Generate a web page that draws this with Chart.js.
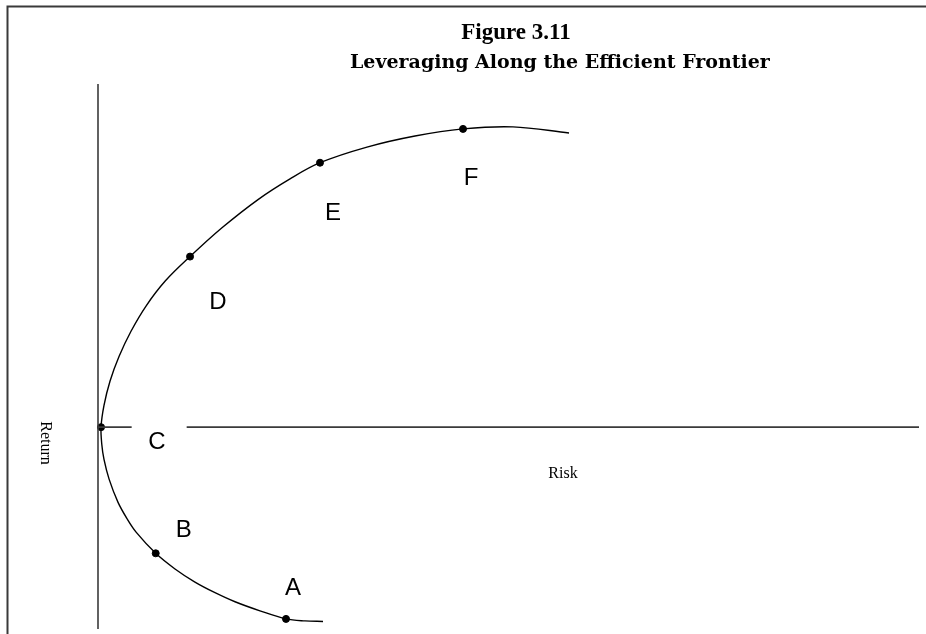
<!DOCTYPE html>
<html>
<head>
<meta charset="utf-8">
<script src="https://cdn.jsdelivr.net/npm/chart.js@4.4.1/dist/chart.umd.min.js"></script>
<style>
  html, body { margin: 0; padding: 0; background: #fff; }
</style>
</head>
<body>
<canvas id="frontier" width="926" height="634"></canvas>
<script>
// frontier curve (risk, return), from the lower tail up through C to the top
var curveRisk   = [27.41, 25.21, 22.90, 19.73, 16.69, 14.25, 11.81, 9.38, 7.03, 4.64, 3.56, 2.44, 1.35, 0.73, 0.46,
                   0.37,
                   0.73, 1.46, 2.56, 4.02, 5.85, 8.16, 11.21, 15.10, 19.49, 23.39, 27.04, 32.76, 38.61, 44.46, 50.55, 57.37];
var curveReturn = [-38.5, -38.4, -38.0, -36.4, -34.6, -32.8, -30.7, -28.1, -25.0, -20.8, -18.2, -14.9, -10.3, -6.4, -3.4,
                   0,
                   4.3, 9.1, 14.0, 19.0, 24.0, 28.9, 33.8, 39.5, 45.1, 49.2, 52.4, 55.5, 57.7, 59.1, 59.5, 58.3];

// labelled portfolios
var pointNames  = ['A', 'B', 'C', 'D', 'E', 'F'];
var pointRisk   = [22.90, 7.03, 0.37, 11.21, 27.04, 44.46];
var pointReturn = [-38.0, -25.0, 0, 33.8, 52.4, 59.1];

// axis lines (the risk axis has a gap round the C label)
var riskAxisLeft  = [0, 4.1];
var riskAxisRight = [10.8, 100];
var returnAxis    = [-40, 68];

function pairs(xs, ys) {
	var out = [];
	for (var i = 0; i < xs.length; i++) out.push({x: xs[i], y: ys[i]});
	return out;
}

var labelOffsets = [[7, -31], [28, -23], [56, 15], [28, 46], [13, 51], [8, 49]];

var textPlugin = {
	id: 'texts',
	beforeDraw: function(chart) {
		var c = chart.ctx;
		c.save();
		c.strokeStyle = '#3a3a3a';
		c.lineWidth = 2;
		c.beginPath();
		c.moveTo(7.5, 634);
		c.lineTo(7.5, 6.5);
		c.lineTo(926, 6.5);
		c.stroke();
		c.restore();
	},
	afterDatasetsDraw: function(chart) {
		var c = chart.ctx;
		var xs = chart.scales.x, ys = chart.scales.y;
		c.save();
		c.fillStyle = '#000';
		c.textAlign = 'center';
		c.textBaseline = 'middle';
		c.font = '24px "Liberation Sans", Arial, sans-serif';
		for (var i = 0; i < pointNames.length; i++) {
			var px = xs.getPixelForValue(pointRisk[i]) + labelOffsets[i][0];
			var py = ys.getPixelForValue(pointReturn[i]) + labelOffsets[i][1];
			c.fillText(pointNames[i], px, py);
		}

		c.textBaseline = 'alphabetic';
		c.font = 'bold 23px "Liberation Serif", "Times New Roman", serif';
		c.fillText('Figure 3.11', 516, 39);
		c.textAlign = 'left';
		c.font = 'bold 19px "DejaVu Serif", serif';
		c.fillText('Leveraging Along the Efficient Frontier', 350, 68);

		c.textAlign = 'center';
		c.font = '16px "Liberation Serif", "Times New Roman", serif';
		c.fillText('Risk', 563, 478);

		c.translate(45, 443);
		c.rotate(Math.PI / 2);
		c.textBaseline = 'middle';
		c.fillText('Return', 0, 0);
		c.restore();
	}
};

var ctx = document.getElementById('frontier');

var chart = new Chart(ctx, {
	type: 'scatter',
	data: {
		datasets: [
			{
				label: 'Return axis',
				data: pairs([0, 0], returnAxis),
				showLine: true,
				borderColor: '#3a3a3a',
				borderWidth: 1.6,
				pointRadius: 0,
				clip: false
			},
			{
				label: 'Risk axis',
				data: pairs(riskAxisLeft, [0, 0]),
				showLine: true,
				borderColor: '#3a3a3a',
				borderWidth: 1.6,
				pointRadius: 0,
				clip: false
			},
			{
				label: 'Risk axis 2',
				data: pairs(riskAxisRight, [0, 0]),
				showLine: true,
				borderColor: '#3a3a3a',
				borderWidth: 1.6,
				pointRadius: 0,
				clip: false
			},
			{
				label: 'Efficient frontier',
				data: pairs(curveRisk, curveReturn),
				showLine: true,
				tension: 0.35,
				borderColor: '#000',
				borderWidth: 1.4,
				pointRadius: 0,
				clip: false
			},
			{
				label: 'Portfolios',
				data: pairs(pointRisk, pointReturn),
				showLine: false,
				backgroundColor: '#000',
				borderColor: '#000',
				pointRadius: 3.5,
				clip: false
			}
		]
	},
	options: {
		responsive: false,
		animation: false,
		layout: { padding: { left: 98, right: 7, top: 84, bottom: 4 } },
		plugins: {
			legend: { display: false },
			title: { display: false },
			tooltip: { enabled: false }
		},
		scales: {
			x: { type: 'linear', display: false, min: 0, max: 100 },
			y: { type: 'linear', display: false, min: -40, max: 68 }
		}
	},
	plugins: [textPlugin]
});
</script>
</body>
</html>
